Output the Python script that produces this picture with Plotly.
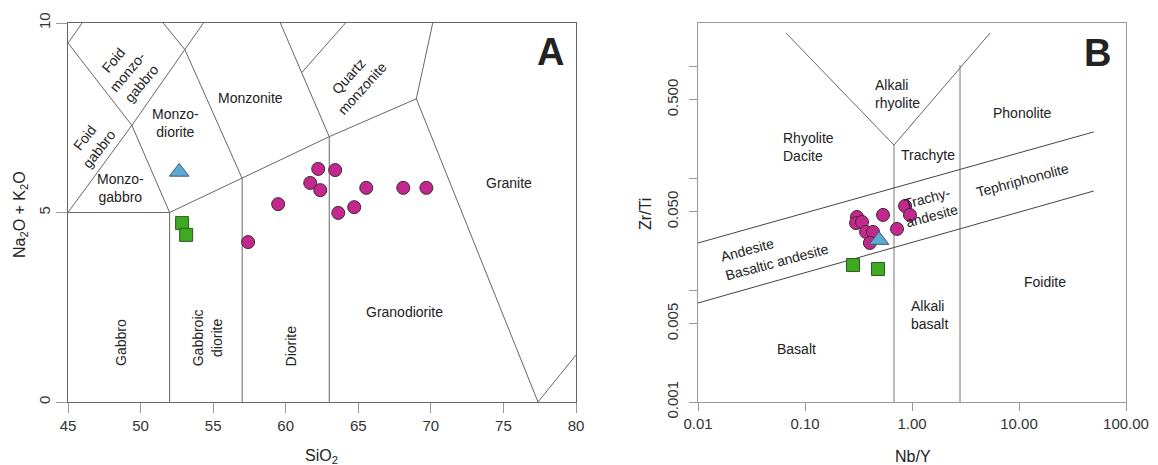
import numpy as np
import plotly.graph_objects as go

# ---------------- data ----------------
# Panel A (TAS): SiO2 vs Na2O+K2O
tas_circ_sio2 = [62.24, 63.41, 61.69, 62.38, 59.48, 65.55, 68.1, 69.69, 64.72, 63.62, 57.41]
tas_circ_alk = [6.15, 6.12, 5.78, 5.59, 5.22, 5.65, 5.65, 5.65, 5.14, 4.99, 4.22]
tas_tri_sio2 = [52.66]
tas_tri_alk = [6.07]
tas_sq_sio2 = [52.86, 53.14]
tas_sq_alk = [4.72, 4.41]

# Panel B (Nb/Y vs Zr/Ti)
wf_circ_nby = [0.306, 0.300, 0.341, 0.536, 0.372, 0.432, 0.404, 0.724, 0.861, 0.957]
wf_circ_zrti = [0.0449, 0.0396, 0.0405, 0.0468, 0.0330, 0.0330, 0.0263, 0.0351, 0.0562, 0.0468]
wf_tri_nby = [0.492]
wf_tri_zrti = [0.0279]
wf_sq_nby = [0.281, 0.481]
wf_sq_zrti = [0.0167, 0.0154]

# Field boundaries, panel A (SiO2, alkali)
tas_bounds = [
    ([45, 52], [5, 5]),
    ([52, 52], [0, 5]),
    ([45, 49.4, 53.05, 54.33], [5, 7.3, 9.3, 10]),
    ([45, 49.4, 52], [9.47, 7.3, 5]),
    ([45, 45.97], [9.47, 10]),
    ([51.56, 53.05, 57], [10, 9.3, 5.9]),
    ([57, 57], [0, 5.9]),
    ([52, 57, 63, 69], [5, 5.9, 7, 8]),
    ([59.63, 63], [10, 7]),
    ([61.1, 64.12], [8.69, 10]),
    ([63, 63], [0, 7]),
    ([70.13, 69, 77.38], [10, 8, 0]),
    ([77.38, 80], [0, 1.24]),
]

# Field boundaries, panel B (Nb/Y, Zr/Ti)
wf_bounds = [
    ([0.0664, 0.679, 5.36], [1.97, 0.197, 1.97], "#666"),
    ([0.679, 0.679], [0.001, 0.197], "#777"),
    ([2.81, 2.81], [0.001, 1.02], "#777"),
    ([0.01, 50], [0.0263, 0.258], "#444"),
    ([0.01, 50], [0.00766, 0.0766], "#444"),
]

tas_xticks = [45, 50, 55, 60, 65, 70, 75, 80]
tas_yticks = [0, 5, 10]
wf_xticks = [0.01, 0.1, 1, 10, 100]
wf_xlabels = ["0.01", "0.10", "1.00", "10.00", "100.00"]
wf_yticks = [0.001, 0.005, 0.05, 0.5]
wf_ylabels = ["0.001", "0.005", "0.050", "0.500"]
wf_yminor = [0.01, 0.1, 1]

MAG = "#C4288E"
BLUE = "#5AAAD2"
GREEN = "#3DAA22"
FONT = "Liberation Sans, Arial, sans-serif"

fig = go.Figure()

for xs, ys in tas_bounds:
    fig.add_trace(go.Scatter(x=xs, y=ys, mode="lines", line=dict(color="#666", width=1),
                             hoverinfo="skip", showlegend=False, xaxis="x", yaxis="y"))
for xs, ys, c in wf_bounds:
    fig.add_trace(go.Scatter(x=xs, y=ys, mode="lines", line=dict(color=c, width=1),
                             hoverinfo="skip", showlegend=False, xaxis="x2", yaxis="y2"))

mk_line = dict(color="#3a2a30", width=1)
fig.add_trace(go.Scatter(x=tas_circ_sio2, y=tas_circ_alk, mode="markers",
                         marker=dict(symbol="circle", size=13, color=MAG, line=mk_line),
                         showlegend=False, xaxis="x", yaxis="y"))
fig.add_trace(go.Scatter(x=tas_tri_sio2, y=tas_tri_alk, mode="markers",
                         marker=dict(symbol="triangle-up", size=17, color=BLUE, line=dict(color="#3b5d70", width=1)),
                         showlegend=False, xaxis="x", yaxis="y"))
fig.add_trace(go.Scatter(x=tas_sq_sio2, y=tas_sq_alk, mode="markers",
                         marker=dict(symbol="square", size=13, color=GREEN, line=dict(color="#2f5a22", width=1)),
                         showlegend=False, xaxis="x", yaxis="y"))

fig.add_trace(go.Scatter(x=wf_circ_nby, y=wf_circ_zrti, mode="markers",
                         marker=dict(symbol="circle", size=13, color=MAG, line=mk_line),
                         showlegend=False, xaxis="x2", yaxis="y2"))
fig.add_trace(go.Scatter(x=wf_tri_nby, y=wf_tri_zrti, mode="markers",
                         marker=dict(symbol="triangle-up", size=17, color=BLUE, line=dict(color="#3b5d70", width=1)),
                         showlegend=False, xaxis="x2", yaxis="y2"))
fig.add_trace(go.Scatter(x=wf_sq_nby, y=wf_sq_zrti, mode="markers",
                         marker=dict(symbol="square", size=13, color=GREEN, line=dict(color="#2f5a22", width=1)),
                         showlegend=False, xaxis="x2", yaxis="y2"))

ann = []
def lab(text, x, y, ref="1", angle=0, size=14, align="center", bold=False):
    ann.append(dict(text=("<b>%s</b>" % text) if bold else text, x=x, y=y,
                    xref="x" if ref == "1" else "x2", yref="y" if ref == "1" else "y2",
                    xanchor="center", yanchor="middle",
                    showarrow=False, textangle=angle, align=align,
                    font=dict(family=FONT, size=size, color="#222")))

# Panel A labels
lab("Foid<br>monzo-<br>gabbro", 49.07, 8.71, angle=-50)
lab("Foid<br>gabbro", 46.66, 6.83, angle=-52)
lab("Monzo-<br>diorite", 52.39, 7.36)
lab("Monzonite", 57.56, 8.02)
lab("Monzo-<br>gabbro", 48.59, 5.65)
lab("Quartz<br>monzonite", 64.81, 8.44, angle=-48)
lab("Granite", 75.37, 5.78)
lab("Granodiorite", 68.19, 2.37)
lab("Gabbro", 48.66, 1.56, angle=-90)
lab("Gabbroic<br>diorite", 54.6, 1.69, angle=-90)
lab("Diorite", 60.33, 1.48, angle=-90)
lab("A", 78.27, 9.23, size=38, bold=True)

# Panel B labels (log10 positions)
lab("Alkali<br>rhyolite", -0.140, -0.25, ref="2", align="left")
lab("Rhyolite<br>Dacite", -0.963, -0.723, ref="2", align="left")
lab("Phonolite", 1.028, -0.420, ref="2")
lab("Trachyte", 0.150, -0.795, ref="2")
lab("Tephriphonolite", 1.037, -1.018, ref="2", angle=-15)
lab("Trachy-<br>andesite", 0.159, -1.259, ref="2", angle=-15)
lab("Andesite", -1.542, -1.643, ref="2", angle=-15)
lab("Basaltic andesite", -1.262, -1.75, ref="2", angle=-15)
lab("Basalt", -1.084, -2.527, ref="2")
lab("Alkali<br>basalt", 0.168, -2.223, ref="2", align="left")
lab("Foidite", 1.243, -1.929, ref="2")
lab("B", 1.729, 0.116, ref="2", size=38, bold=True)

# Axis titles
def ptitle(text, x, y, angle=0):
    ann.append(dict(text=text, x=x, y=y, xref="paper", yref="paper", showarrow=False,
                    xanchor="center", yanchor="middle",
                    textangle=angle, font=dict(family=FONT, size=16, color="#222")))
ptitle("Na<sub>2</sub>O + K<sub>2</sub>O", 20/1158, 1-215/465, angle=-90)
ptitle("SiO<sub>2</sub>", 321/1158, 1-456/465)
ptitle("Zr/Ti", 645/1158, 1-214/465, angle=-90)
ptitle("Nb/Y", 913/1158, 1-456/465)

tickfont = dict(family=FONT, size=15, color="#333")
fig.update_layout(
    width=1158, height=465,
    margin=dict(l=0, r=0, t=0, b=0, autoexpand=False),
    paper_bgcolor="white", plot_bgcolor="white",
    showlegend=False,
    annotations=ann,
    xaxis=dict(domain=[68/1158, 576/1158], range=[45, 80], tickvals=tas_xticks,
               ticks="outside", ticklen=10, tickcolor="#999", showgrid=False, zeroline=False,
               showline=True, linecolor="#666", mirror=True, tickfont=tickfont, anchor="y",
               automargin=False),
    yaxis=dict(domain=[1-402/465, 1-23/465], range=[0, 10], tickvals=tas_yticks,
               ticks="outside", ticklen=11, tickcolor="#999", showgrid=False, zeroline=False,
               showline=True, linecolor="#666", mirror=True, tickfont=tickfont, tickangle=-90,
               anchor="x", automargin=False),
    xaxis2=dict(domain=[698/1158, 1126/1158], type="log", range=[-2, 2], tickvals=wf_xticks,
                ticktext=wf_xlabels, ticks="outside", ticklen=8, tickcolor="#999",
                showgrid=False, zeroline=False, showline=True, linecolor="#999", mirror=True,
                tickfont=tickfont, anchor="y2", automargin=False),
    yaxis2=dict(domain=[1-402/465, 1-23/465], type="log", range=[-3, 0.384], tickvals=wf_yticks,
                ticktext=wf_ylabels, ticks="outside", ticklen=8, tickcolor="#999",
                showgrid=False, zeroline=False, showline=True, linecolor="#999", mirror=True,
                tickfont=tickfont, tickangle=-90, anchor="x2", automargin=False,
                ticklabelstandoff=5,
                minor=dict(tickvals=wf_yminor, ticks="outside", ticklen=8, tickcolor="#999",
                           showgrid=False)),
)

fig.write_html("out.html")
